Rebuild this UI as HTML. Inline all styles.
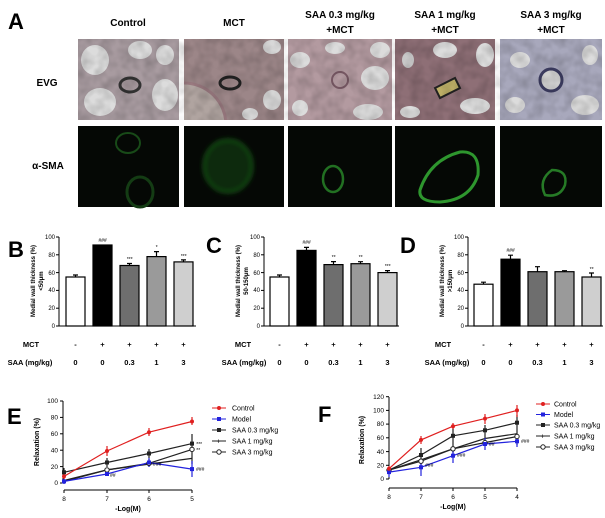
<!DOCTYPE html>
<html><head><meta charset="utf-8"><style>
html,body{margin:0;padding:0;background:#fff;}
svg{display:block;font-family:"Liberation Sans",Arial,sans-serif;}
</style></head><body>
<svg width="605" height="518" viewBox="0 0 605 518" xmlns="http://www.w3.org/2000/svg">
<defs>
<filter id="tex" x="0" y="0" width="100%" height="100%">
<feTurbulence type="fractalNoise" baseFrequency="0.09" numOctaves="2" seed="3"/>
<feColorMatrix type="matrix" values="0 0 0 0 0  0 0 0 0 0  0 0 0 0 0  0 0 0 -1.6 1.1"/>
</filter>
<filter id="blur"><feGaussianBlur stdDeviation="2"/></filter>
<clipPath id="cm"><rect x="184" y="39" width="100" height="81"/></clipPath>
</defs>
<rect width="605" height="518" fill="#fff"/>
<text x="8" y="29" font-size="22" font-weight="bold">A</text>
<g font-size="10" font-weight="bold" text-anchor="middle">
<text x="128" y="26">Control</text>
<text x="234" y="26">MCT</text>
<text x="340" y="18">SAA 0.3 mg/kg</text><text x="340" y="33">+MCT</text>
<text x="445" y="18">SAA 1 mg/kg</text><text x="445" y="33">+MCT</text>
<text x="551" y="18">SAA 3 mg/kg</text><text x="551" y="33">+MCT</text>
<text x="47" y="86">EVG</text>
<text x="48" y="169">α-SMA</text>
</g>
<g>
<rect x="78" y="39" width="101" height="81" fill="#a89ba0"/>
<ellipse cx="95" cy="60" rx="14" ry="15" fill="#dcdcdc"/><ellipse cx="100" cy="102" rx="16" ry="14" fill="#dcdcdc"/><ellipse cx="165" cy="95" rx="13" ry="16" fill="#dcdcdc"/><ellipse cx="140" cy="50" rx="12" ry="9" fill="#dcdcdc"/><ellipse cx="165" cy="55" rx="9" ry="10" fill="#dcdcdc"/>
<ellipse cx="130" cy="85" rx="10" ry="7" fill="none" stroke="#333" stroke-width="3"/>
<g clip-path="url(#cm)">
<rect x="184" y="39" width="100" height="81" fill="#9c8688"/>
<circle cx="184" cy="125" r="42" fill="#b0a4a0" stroke="#9a7a80" stroke-width="3"/>
<ellipse cx="230" cy="83" rx="10" ry="6" fill="none" stroke="#222" stroke-width="3"/>
<ellipse cx="272" cy="100" rx="9" ry="10" fill="#d8d8d8"/><ellipse cx="250" cy="114" rx="8" ry="6" fill="#d8d8d8"/><ellipse cx="272" cy="47" rx="9" ry="7" fill="#d8d8d8"/>
</g>
<rect x="288" y="39" width="104" height="81" fill="#b39aa0"/>
<ellipse cx="300" cy="60" rx="10" ry="8" fill="#dcdcdc"/><ellipse cx="375" cy="78" rx="14" ry="12" fill="#dcdcdc"/><ellipse cx="335" cy="48" rx="10" ry="6" fill="#dcdcdc"/><ellipse cx="380" cy="50" rx="10" ry="8" fill="#dcdcdc"/><ellipse cx="300" cy="108" rx="8" ry="8" fill="#dcdcdc"/><ellipse cx="368" cy="112" rx="15" ry="8" fill="#dcdcdc"/>
<ellipse cx="340" cy="80" rx="8" ry="8" fill="none" stroke="#7a5a66" stroke-width="2"/>
<rect x="395" y="39" width="100" height="81" fill="#8e6f76"/>
<ellipse cx="445" cy="50" rx="12" ry="8" fill="#dcdcdc"/><ellipse cx="485" cy="55" rx="9" ry="12" fill="#dcdcdc"/><ellipse cx="475" cy="106" rx="15" ry="8" fill="#dcdcdc"/><ellipse cx="410" cy="112" rx="10" ry="6" fill="#dcdcdc"/><ellipse cx="408" cy="60" rx="6" ry="8" fill="#c8c8c8"/>
<path d="M435 88 L455 78 L460 88 L440 98 Z" fill="#bcae66" stroke="#222" stroke-width="2"/>
<rect x="500" y="39" width="102" height="81" fill="#a8a8bc"/>
<ellipse cx="520" cy="60" rx="10" ry="8" fill="#dcdcdc"/><ellipse cx="585" cy="105" rx="14" ry="10" fill="#dcdcdc"/><ellipse cx="515" cy="105" rx="10" ry="8" fill="#dcdcdc"/><ellipse cx="590" cy="55" rx="8" ry="10" fill="#dcdcdc"/>
<ellipse cx="551" cy="80" rx="11" ry="11" fill="#d0d0d0" stroke="#3c3c60" stroke-width="3"/>
</g>
<rect x="78" y="39" width="524" height="81" filter="url(#tex)" fill="#000" opacity="0.18"/>
<g>
<rect x="78" y="126" width="101" height="81" fill="#050805"/>
<ellipse cx="128" cy="143" rx="12" ry="10" fill="none" stroke="#184a18" stroke-width="2"/>
<ellipse cx="140" cy="192" rx="13" ry="15" fill="none" stroke="#143c14" stroke-width="3"/>
<rect x="184" y="126" width="100" height="81" fill="#050805"/>
<ellipse cx="228" cy="166" rx="24" ry="26" fill="#0c2a0c" stroke="#154a15" stroke-width="3" filter="url(#blur)"/>
<rect x="288" y="126" width="104" height="81" fill="#050805"/>
<ellipse cx="333" cy="179" rx="10" ry="13" fill="none" stroke="#227022" stroke-width="2.5"/>
<rect x="395" y="126" width="100" height="81" fill="#050805"/>
<path d="M420 190 Q430 160 460 152 Q480 150 478 175 Q470 200 440 202 Q418 202 420 190 Z" fill="none" stroke="#2e962e" stroke-width="3"/>
<rect x="500" y="126" width="102" height="81" fill="#050805"/>
<path d="M545 195 Q538 180 552 170 Q568 170 565 185 Q560 198 545 195 Z" fill="none" stroke="#267a26" stroke-width="2.5"/>
</g>

<g font-size="6" stroke-width="1">
<text x="8" y="257" font-size="22" font-weight="bold">B</text>
<g fill="#000" font-size="6" font-weight="bold" text-anchor="middle">
<text transform="translate(35,281) rotate(-90)">Medial wall thickness (%)</text>
<text transform="translate(43,281) rotate(-90)">&lt;50μm</text>
</g>
<g stroke="#000"><line x1="59" y1="237" x2="59" y2="326"/><line x1="59" y1="326" x2="196" y2="326"/>
<line x1="56" y1="237" x2="59" y2="237"/><line x1="56" y1="254.8" x2="59" y2="254.8"/><line x1="56" y1="272.6" x2="59" y2="272.6"/><line x1="56" y1="290.4" x2="59" y2="290.4"/><line x1="56" y1="308.2" x2="59" y2="308.2"/><line x1="56" y1="326" x2="59" y2="326"/></g>
<g text-anchor="end"><text x="55" y="239">100</text><text x="55" y="257">80</text><text x="55" y="275">60</text><text x="55" y="292">40</text><text x="55" y="310">20</text><text x="55" y="328">0</text></g>
<g stroke="#000" stroke-width="1.2">
<rect x="66" y="277" width="19" height="49" fill="#fff"/>
<rect x="93" y="245" width="19" height="81" fill="#000"/>
<rect x="120" y="265.5" width="19" height="60.5" fill="#6e6e6e"/>
<rect x="147" y="256.6" width="19" height="69.4" fill="#9a9a9a"/>
<rect x="174" y="261.9" width="19" height="64.1" fill="#cfcfcf"/>
<path d="M75.5 277v-2M73 275h5M129.5 265.5v-2M127 263.5h5M156.5 256.6v-5M154 251.6h5M183.5 261.9v-2M181 259.9h5" fill="none"/>
</g>
<g text-anchor="middle" font-size="5" font-style="italic"><text x="102.5" y="242">###</text><text x="129.5" y="261">***</text><text x="156.5" y="249">*</text><text x="183.5" y="258">***</text></g>

<text x="206" y="253" font-size="22" font-weight="bold">C</text>
<g fill="#000" font-weight="bold" text-anchor="middle">
<text transform="translate(240,281) rotate(-90)">Medial wall thickness (%)</text>
<text transform="translate(248,281) rotate(-90)">50-150μm</text>
</g>
<g stroke="#000"><line x1="264" y1="237" x2="264" y2="326"/><line x1="264" y1="326" x2="399" y2="326"/>
<line x1="261" y1="237" x2="264" y2="237"/><line x1="261" y1="254.8" x2="264" y2="254.8"/><line x1="261" y1="272.6" x2="264" y2="272.6"/><line x1="261" y1="290.4" x2="264" y2="290.4"/><line x1="261" y1="308.2" x2="264" y2="308.2"/><line x1="261" y1="326" x2="264" y2="326"/></g>
<g text-anchor="end"><text x="260" y="239">100</text><text x="260" y="257">80</text><text x="260" y="275">60</text><text x="260" y="292">40</text><text x="260" y="310">20</text><text x="260" y="328">0</text></g>
<g stroke="#000" stroke-width="1.2">
<rect x="270" y="277" width="19" height="49" fill="#fff"/>
<rect x="297" y="250.4" width="19" height="75.6" fill="#000"/>
<rect x="324" y="264.6" width="19" height="61.4" fill="#6e6e6e"/>
<rect x="351" y="263.7" width="19" height="62.3" fill="#9a9a9a"/>
<rect x="378" y="272.6" width="19" height="53.4" fill="#cfcfcf"/>
<path d="M279.5 277v-2M277 275h5M306.5 250.4v-3M304 247.4h5M333.5 264.6v-3M331 261.6h5M360.5 263.7v-2M358 261.7h5M387.5 272.6v-2M385 270.6h5" fill="none"/>
</g>
<g text-anchor="middle" font-size="5" font-style="italic"><text x="306.5" y="244">###</text><text x="333.5" y="259">**</text><text x="360.5" y="259">**</text><text x="387.5" y="268">***</text></g>

<text x="400" y="253" font-size="22" font-weight="bold">D</text>
<g fill="#000" font-weight="bold" text-anchor="middle">
<text transform="translate(444,281) rotate(-90)">Medial wall thickness (%)</text>
<text transform="translate(452,281) rotate(-90)">&gt;150μm</text>
</g>
<g stroke="#000"><line x1="468" y1="237" x2="468" y2="326"/><line x1="468" y1="326" x2="603" y2="326"/>
<line x1="465" y1="237" x2="468" y2="237"/><line x1="465" y1="254.8" x2="468" y2="254.8"/><line x1="465" y1="272.6" x2="468" y2="272.6"/><line x1="465" y1="290.4" x2="468" y2="290.4"/><line x1="465" y1="308.2" x2="468" y2="308.2"/><line x1="465" y1="326" x2="468" y2="326"/></g>
<g text-anchor="end"><text x="464" y="239">100</text><text x="464" y="257">80</text><text x="464" y="275">60</text><text x="464" y="292">40</text><text x="464" y="310">20</text><text x="464" y="328">0</text></g>
<g stroke="#000" stroke-width="1.2">
<rect x="474" y="284.2" width="19" height="41.8" fill="#fff"/>
<rect x="501" y="259.2" width="19" height="66.8" fill="#000"/>
<rect x="528" y="271.7" width="19" height="54.3" fill="#6e6e6e"/>
<rect x="555" y="271.7" width="19" height="54.3" fill="#9a9a9a"/>
<rect x="582" y="277" width="19" height="49" fill="#cfcfcf"/>
<path d="M483.5 284.2v-2M481 282.2h5M510.5 259.2v-4M508 255.2h5M537.5 271.7v-5M535 266.7h5M564.5 271.7v-1M562 270.7h5M591.5 277v-4M589 273h5" fill="none"/>
</g>
<g text-anchor="middle" font-size="5" font-style="italic"><text x="510.5" y="252">###</text><text x="591.5" y="271">**</text></g>
</g>

<g font-size="7.5" font-weight="bold" text-anchor="middle">
<text x="31" y="347">MCT</text><text x="30" y="365">SAA (mg/kg)</text>
<text x="75.5" y="347">-</text><text x="102.5" y="347">+</text><text x="129.5" y="347">+</text><text x="156.5" y="347">+</text><text x="183.5" y="347">+</text>
<text x="75.5" y="365">0</text><text x="102.5" y="365">0</text><text x="129.5" y="365">0.3</text><text x="156.5" y="365">1</text><text x="183.5" y="365">3</text>
<text x="243" y="347">MCT</text><text x="244" y="365">SAA (mg/kg)</text>
<text x="279.5" y="347">-</text><text x="306.5" y="347">+</text><text x="333.5" y="347">+</text><text x="360.5" y="347">+</text><text x="387.5" y="347">+</text>
<text x="279.5" y="365">0</text><text x="306.5" y="365">0</text><text x="333.5" y="365">0.3</text><text x="360.5" y="365">1</text><text x="387.5" y="365">3</text>
<text x="443" y="347">MCT</text><text x="447" y="365">SAA (mg/kg)</text>
<text x="483.5" y="347">-</text><text x="510.5" y="347">+</text><text x="537.5" y="347">+</text><text x="564.5" y="347">+</text><text x="591.5" y="347">+</text>
<text x="483.5" y="365">0</text><text x="510.5" y="365">0</text><text x="537.5" y="365">0.3</text><text x="564.5" y="365">1</text><text x="591.5" y="365">3</text>
</g>

<text x="7" y="424" font-size="22" font-weight="bold">E</text>
<g font-size="6.5">
<text transform="translate(39,442) rotate(-90)" text-anchor="middle" font-weight="bold" font-size="7">Relaxation (%)</text>
<g stroke="#000"><line x1="63" y1="401" x2="63" y2="483"/><line x1="64" y1="490" x2="192" y2="490"/>
<line x1="60" y1="401" x2="63" y2="401"/><line x1="60" y1="417.4" x2="63" y2="417.4"/><line x1="60" y1="433.8" x2="63" y2="433.8"/><line x1="60" y1="450.2" x2="63" y2="450.2"/><line x1="60" y1="466.6" x2="63" y2="466.6"/><line x1="60" y1="483" x2="63" y2="483"/>
<line x1="64" y1="490" x2="64" y2="493"/><line x1="107" y1="490" x2="107" y2="493"/><line x1="149" y1="490" x2="149" y2="493"/><line x1="192" y1="490" x2="192" y2="493"/></g>
<g text-anchor="end"><text x="58" y="403">100</text><text x="58" y="419.5">80</text><text x="58" y="436">60</text><text x="58" y="452.5">40</text><text x="58" y="469">20</text><text x="58" y="485">0</text></g>
<g text-anchor="middle"><text x="64" y="501">8</text><text x="107" y="501">7</text><text x="149" y="501">6</text><text x="192" y="501">5</text>
<text x="128" y="511" font-weight="bold" font-size="7">-Log(M)</text></g>
<g fill="none" stroke-width="1.2">
<polyline points="64,472.3 107,462.5 149,453.5 192,443.6" stroke="#222"/>
<polyline points="64,480.5 107,469.9 149,464.1 192,458.4" stroke="#222"/>
<polyline points="64,481.4 107,469.9 149,463.3 192,449.4" stroke="#222"/>
<polyline points="64,481.4 107,474 149,462.5 192,469.1" stroke="#2222dd"/>
<polyline points="64,476.4 107,451 149,432.2 192,421.5" stroke="#e02020"/>
<path d="M64 468v9M107 458v9M149 449v9M192 434v19M64 476v8M192 453v11M149 459v8" stroke="#222"/>
<path d="M64 479v5M107 472v4M149 458v9M192 461v16" stroke="#2222dd"/>
<path d="M64 474v5M107 446v10M149 428v8M192 417v8" stroke="#e02020"/>
</g>
<g fill="#222"><rect x="62" y="470.3" width="4" height="4"/><rect x="105" y="460.5" width="4" height="4"/><rect x="147" y="451.5" width="4" height="4"/><rect x="190" y="441.6" width="4" height="4"/></g>
<g fill="#fff" stroke="#222"><circle cx="107" cy="469.9" r="2.2"/><circle cx="149" cy="463.3" r="2.2"/><circle cx="192" cy="449.4" r="2.2"/></g>
<g fill="#2222dd"><rect x="62" y="479.4" width="4" height="4"/><rect x="105" y="472" width="4" height="4"/><rect x="147" y="460.5" width="4" height="4"/><rect x="190" y="467.1" width="4" height="4"/></g>
<g fill="#e02020"><circle cx="64" cy="476.4" r="2"/><circle cx="107" cy="451" r="2"/><circle cx="149" cy="432.2" r="2"/><circle cx="192" cy="421.5" r="2"/></g>
<g font-size="5" font-style="italic"><text x="110" y="477">##</text><text x="153" y="466">###</text><text x="196" y="471">###</text><text x="196" y="446">***</text><text x="196" y="452">**</text></g>
<g font-size="7">
<line x1="212" y1="408" x2="226" y2="408" stroke="#e02020"/><circle cx="219" cy="408" r="2" fill="#e02020"/><text x="232" y="410.5">Control</text>
<line x1="212" y1="419" x2="226" y2="419" stroke="#2222dd"/><rect x="217" y="417" width="4" height="4" fill="#2222dd"/><text x="232" y="421.5">Model</text>
<line x1="212" y1="430" x2="226" y2="430" stroke="#222"/><rect x="217" y="428" width="4" height="4" fill="#222"/><text x="232" y="432.5">SAA 0.3 mg/kg</text>
<line x1="212" y1="441" x2="226" y2="441" stroke="#222"/><text x="216.5" y="443.5" font-size="7">+</text><text x="232" y="443.5">SAA 1 mg/kg</text>
<line x1="212" y1="452" x2="226" y2="452" stroke="#222"/><circle cx="219" cy="452" r="2.2" fill="#fff" stroke="#222"/><text x="232" y="454.5">SAA 3 mg/kg</text>
</g>
</g>

<text x="318" y="422" font-size="22" font-weight="bold">F</text>
<g font-size="6.5">
<text transform="translate(364,440) rotate(-90)" text-anchor="middle" font-weight="bold" font-size="7">Relaxation (%)</text>
<g stroke="#000"><line x1="389" y1="397" x2="389" y2="479"/><line x1="389" y1="488" x2="517" y2="488"/>
<line x1="386" y1="396.7" x2="389" y2="396.7"/><line x1="386" y1="410.4" x2="389" y2="410.4"/><line x1="386" y1="424.1" x2="389" y2="424.1"/><line x1="386" y1="437.8" x2="389" y2="437.8"/><line x1="386" y1="451.6" x2="389" y2="451.6"/><line x1="386" y1="465.3" x2="389" y2="465.3"/><line x1="386" y1="479" x2="389" y2="479"/>
<line x1="389" y1="488" x2="389" y2="491"/><line x1="421" y1="488" x2="421" y2="491"/><line x1="453" y1="488" x2="453" y2="491"/><line x1="485" y1="488" x2="485" y2="491"/><line x1="517" y1="488" x2="517" y2="491"/></g>
<g text-anchor="end"><text x="384" y="399">120</text><text x="384" y="412.5">100</text><text x="384" y="426">80</text><text x="384" y="440">60</text><text x="384" y="454">40</text><text x="384" y="467.5">20</text><text x="384" y="481">0</text></g>
<g text-anchor="middle"><text x="389" y="499">8</text><text x="421" y="499">7</text><text x="453" y="499">6</text><text x="485" y="499">5</text><text x="517" y="499">4</text>
<text x="453" y="509" font-weight="bold" font-size="7">-Log(M)</text></g>
<g fill="none" stroke-width="1.2">
<polyline points="389,470.1 421,455 453,435.8 485,430.3 517,422.7" stroke="#222"/>
<polyline points="389,470.1 421,459.8 453,448.8 485,438.5 517,433.7" stroke="#222"/>
<polyline points="389,470.1 421,461.2 453,448.8 485,442.6 517,436.5" stroke="#222"/>
<polyline points="389,472.1 421,467.3 453,455.7 485,444 517,441.3" stroke="#2222dd"/>
<polyline points="389,468.7 421,439.9 453,426.2 485,418.6 517,410.4" stroke="#e02020"/>
<path d="M421 448v20M453 426v30M485 425v20M517 415v30" stroke="#222"/>
<path d="M389 467v10M421 460v16M453 449v14M485 438v12M517 435v12" stroke="#2222dd"/>
<path d="M389 466v6M421 436v8M453 423v6M485 414v10M517 405v12" stroke="#e02020"/>
</g>
<g fill="#222"><rect x="419" y="453" width="4" height="4"/><rect x="451" y="433.8" width="4" height="4"/><rect x="483" y="428.3" width="4" height="4"/><rect x="515" y="420.7" width="4" height="4"/></g>
<g fill="#fff" stroke="#222"><circle cx="389" cy="470.1" r="2.2"/><circle cx="421" cy="461.2" r="2.2"/><circle cx="453" cy="448.8" r="2.2"/><circle cx="485" cy="442.6" r="2.2"/><circle cx="517" cy="436.5" r="2.2"/></g>
<g fill="#2222dd"><rect x="387" y="470.1" width="4" height="4"/><rect x="419" y="465.3" width="4" height="4"/><rect x="451" y="453.7" width="4" height="4"/><rect x="483" y="442" width="4" height="4"/><rect x="515" y="439.3" width="4" height="4"/></g>
<g fill="#e02020"><circle cx="389" cy="468.7" r="2"/><circle cx="421" cy="439.9" r="2"/><circle cx="453" cy="426.2" r="2"/><circle cx="485" cy="418.6" r="2"/><circle cx="517" cy="410.4" r="2"/></g>
<g font-size="5" font-style="italic"><text x="425" y="467">###</text><text x="457" y="457">###</text><text x="489" y="446">##</text><text x="521" y="443">###</text></g>
<g font-size="7">
<line x1="536" y1="404" x2="550" y2="404" stroke="#e02020"/><circle cx="543" cy="404" r="2" fill="#e02020"/><text x="554" y="406.5">Control</text>
<line x1="536" y1="414.5" x2="550" y2="414.5" stroke="#2222dd"/><rect x="541" y="412.5" width="4" height="4" fill="#2222dd"/><text x="554" y="417">Model</text>
<line x1="536" y1="425" x2="550" y2="425" stroke="#222"/><rect x="541" y="423" width="4" height="4" fill="#222"/><text x="554" y="427.5">SAA 0.3 mg/kg</text>
<line x1="536" y1="436" x2="550" y2="436" stroke="#222"/><text x="540.5" y="438.5">+</text><text x="554" y="438.5">SAA 1 mg/kg</text>
<line x1="536" y1="447" x2="550" y2="447" stroke="#222"/><circle cx="543" cy="447" r="2.2" fill="#fff" stroke="#222"/><text x="554" y="449.5">SAA 3 mg/kg</text>
</g>
</g>
</svg>
</body></html>
